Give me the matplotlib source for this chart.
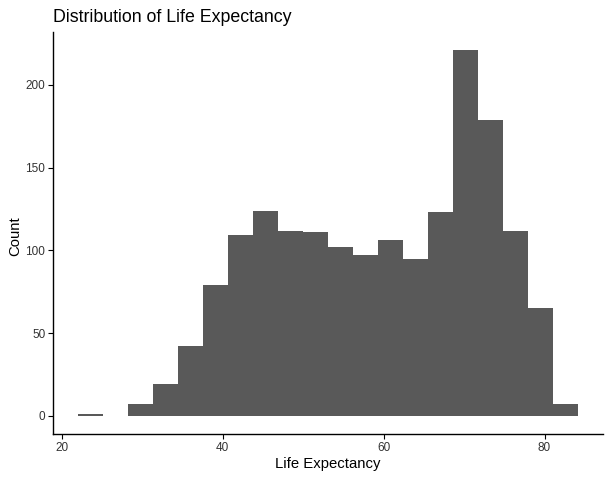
import numpy as np
import matplotlib
matplotlib.use("Agg")
import matplotlib.pyplot as plt

# life expectancy histogram, 20 bins between data min and max
life_min = 23.599
life_max = 82.603
n_bins = 20
counts = [1, 0, 7, 19, 42, 79, 109, 124, 112, 111, 102, 97, 106, 95, 123, 221, 179, 112, 65, 7]
x_ticks = [20, 40, 60, 80]
y_ticks = [0, 50, 100, 150, 200]

plt.rcParams['font.family'] = ['Liberation Sans', 'DejaVu Sans']


def plotHist():
    bin_width = (life_max - life_min) / (n_bins - 1)
    edges = life_min - bin_width / 2 + bin_width * np.arange(n_bins + 1)

    fig = plt.figure(figsize=(6.1, 4.79), dpi=100)
    ax = fig.add_axes([53 / 610, 45 / 479, 550 / 610, 402 / 479])
    ax.bar(edges[:-1], counts, width=bin_width, align='edge', color='#595959', linewidth=0)

    # ggplot-like expansion of 5%
    xr = edges[-1] - edges[0]
    ax.set_xlim(edges[0] - 0.05 * xr, edges[-1] + 0.05 * xr)
    ymax = max(counts)
    ax.set_ylim(-0.05 * ymax, ymax * 1.05)

    ax.set_xticks(x_ticks)
    ax.set_yticks(y_ticks)
    ax.tick_params(length=3.5, width=0.8, colors='black', labelcolor='#333333', labelsize=8.5, pad=2)
    for s in ['top', 'right']:
        ax.spines[s].set_visible(False)
    for s in ['left', 'bottom']:
        ax.spines[s].set_linewidth(1.0)

    fig.text(53 / 610, 1 - 17 / 479, 'Distribution of Life Expectancy', fontsize=12.8, ha='left', va='center')
    fig.text(328 / 610, 1 - 464 / 479, 'Life Expectancy', fontsize=10.7, ha='center', va='center')
    fig.text(15 / 610, 1 - 236 / 479, 'Count', fontsize=10.7, ha='center', va='center', rotation=90)

    plt.savefig('out.png', dpi=100)


def main():
    plotHist()


if __name__ == '__main__':
    main()
